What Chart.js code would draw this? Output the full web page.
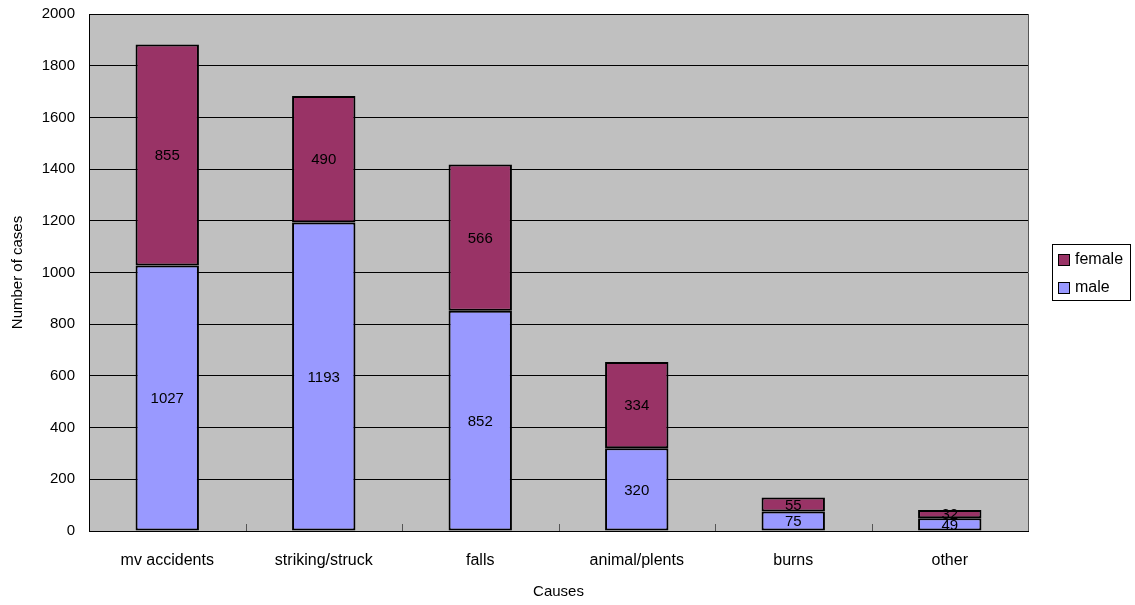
<!DOCTYPE html>
<html>
<head>
<meta charset="utf-8">
<script src="https://cdn.jsdelivr.net/npm/chart.js@4/dist/chart.umd.min.js"></script>
<style>
  html, body { margin: 0; padding: 0; background: #fff; }
  #wrap { width: 1135px; height: 605px; position: relative; }
</style>
</head>
<body>
<div id="wrap"><canvas id="c"></canvas></div>
<script>
const categories = ["mv accidents", "striking/struck", "falls", "animal/plents", "burns", "other"];
const maleValues = [1027, 1193, 852, 320, 75, 49];
const femaleValues = [855, 490, 566, 334, 55, 32];
const yTicks = [0, 200, 400, 600, 800, 1000, 1200, 1400, 1600, 1800, 2000];

const FONT = "'Liberation Sans', Arial, sans-serif";
Chart.defaults.font.family = FONT;
Chart.defaults.font.size = 15;
Chart.defaults.color = '#000';

const bgPlugin = {
  id: 'bg',
  beforeDraw(chart) {
    const {ctx, chartArea: a} = chart;
    ctx.save();
    ctx.fillStyle = '#C0C0C0';
    ctx.fillRect(a.left, a.top, a.right - a.left, a.bottom - a.top);
    ctx.restore();
  },
  afterDatasetsDraw(chart) {
    const {ctx, chartArea: a} = chart;
    const xs = chart.scales.x;
    ctx.save();
    ctx.strokeStyle = '#555';
    ctx.lineWidth = 1;
    ctx.beginPath();
    ctx.moveTo(a.right + 0.5, a.top);
    ctx.lineTo(a.right + 0.5, a.bottom);
    ctx.stroke();
    const n = categories.length;
    for (let i = 0; i < n - 1; i++) {
      const x = (xs.getPixelForValue(i) + xs.getPixelForValue(i + 1)) / 2;
      ctx.beginPath();
      ctx.moveTo(Math.round(x) + 0.5, a.bottom);
      ctx.lineTo(Math.round(x) + 0.5, a.bottom - 7);
      ctx.stroke();
    }
    ctx.fillStyle = '#000';
    ctx.font = '15px ' + FONT;
    ctx.textAlign = 'center';
    ctx.textBaseline = 'middle';
    chart.data.datasets.forEach((ds, di) => {
      const meta = chart.getDatasetMeta(di);
      meta.data.forEach((el, i) => {
        const y = (el.y + el.base) / 2;
        ctx.fillText(String(ds.data[i]), el.x, y + 1);
      });
    });
    ctx.restore();
  },
  afterDraw(chart) {
    const {ctx, chartArea: a} = chart;
    ctx.save();
    const bx = a.right + 24, by = 244, bw = 78, bh = 56;
    ctx.strokeStyle = '#000';
    ctx.lineWidth = 1;
    ctx.fillStyle = '#fff';
    ctx.fillRect(bx, by, bw, bh);
    ctx.strokeRect(bx + 0.5, by + 0.5, bw, bh);
    ctx.font = '16px ' + FONT;
    ctx.textBaseline = 'middle';
    ctx.textAlign = 'left';
    const items = chart.data.datasets.slice().reverse();
    items.forEach((ds, k) => {
      const cy = by + 15 + k * 28;
      ctx.fillStyle = ds.backgroundColor;
      ctx.fillRect(bx + 6, cy - 5, 11, 11);
      ctx.strokeStyle = '#000';
      ctx.strokeRect(bx + 6.5, cy - 4.5, 11, 11);
      ctx.fillStyle = '#000';
      ctx.fillText(ds.label, bx + 23, cy + 1);
    });
    ctx.restore();
  }
};

new Chart(document.getElementById('c'), {
  type: 'bar',
  data: {
    labels: categories,
    datasets: [
      { label: 'male', data: maleValues, backgroundColor: '#9999FF', borderColor: '#000', borderWidth: 2, borderSkipped: false },
      { label: 'female', data: femaleValues, backgroundColor: '#993366', borderColor: '#000', borderWidth: 2, borderSkipped: false }
    ]
  },
  options: {
    responsive: true,
    maintainAspectRatio: false,
    animation: false,
    devicePixelRatio: 1,
    layout: { padding: { top: 14, right: 107, bottom: 0, left: 0 } },
    datasets: { bar: { categoryPercentage: 1, barPercentage: 0.405 } },
    plugins: {
      legend: { display: false },
      tooltip: { enabled: false }
    },
    scales: {
      x: {
        stacked: true,
        grid: { display: false, drawTicks: false },
        border: { display: true, color: '#000', width: 1 },
        ticks: { padding: 20, font: { size: 16 }, maxRotation: 0 },
        title: { display: true, text: 'Causes', font: { size: 15 }, padding: { top: 0, bottom: 4 } },
        afterFit(s) { s.height = 74; s.paddingLeft = 0; s.paddingRight = 0; }
      },
      y: {
        stacked: true,
        min: 0, max: 2000,
        afterBuildTicks(s) { s.ticks = yTicks.map(v => ({ value: v })); },
        grid: { color: '#000', lineWidth: 1, drawTicks: false },
        border: { display: true, color: '#000', width: 1 },
        ticks: { padding: 14, font: { size: 15 }, callback: (v) => String(v) },
        title: { display: true, text: 'Number of cases', font: { size: 15 }, padding: { top: 9, bottom: 0 } },
        afterFit(s) { s.width = 89; s.paddingTop = 0; s.paddingBottom = 0; }
      }
    }
  },
  plugins: [bgPlugin]
});
</script>
</body>
</html>
